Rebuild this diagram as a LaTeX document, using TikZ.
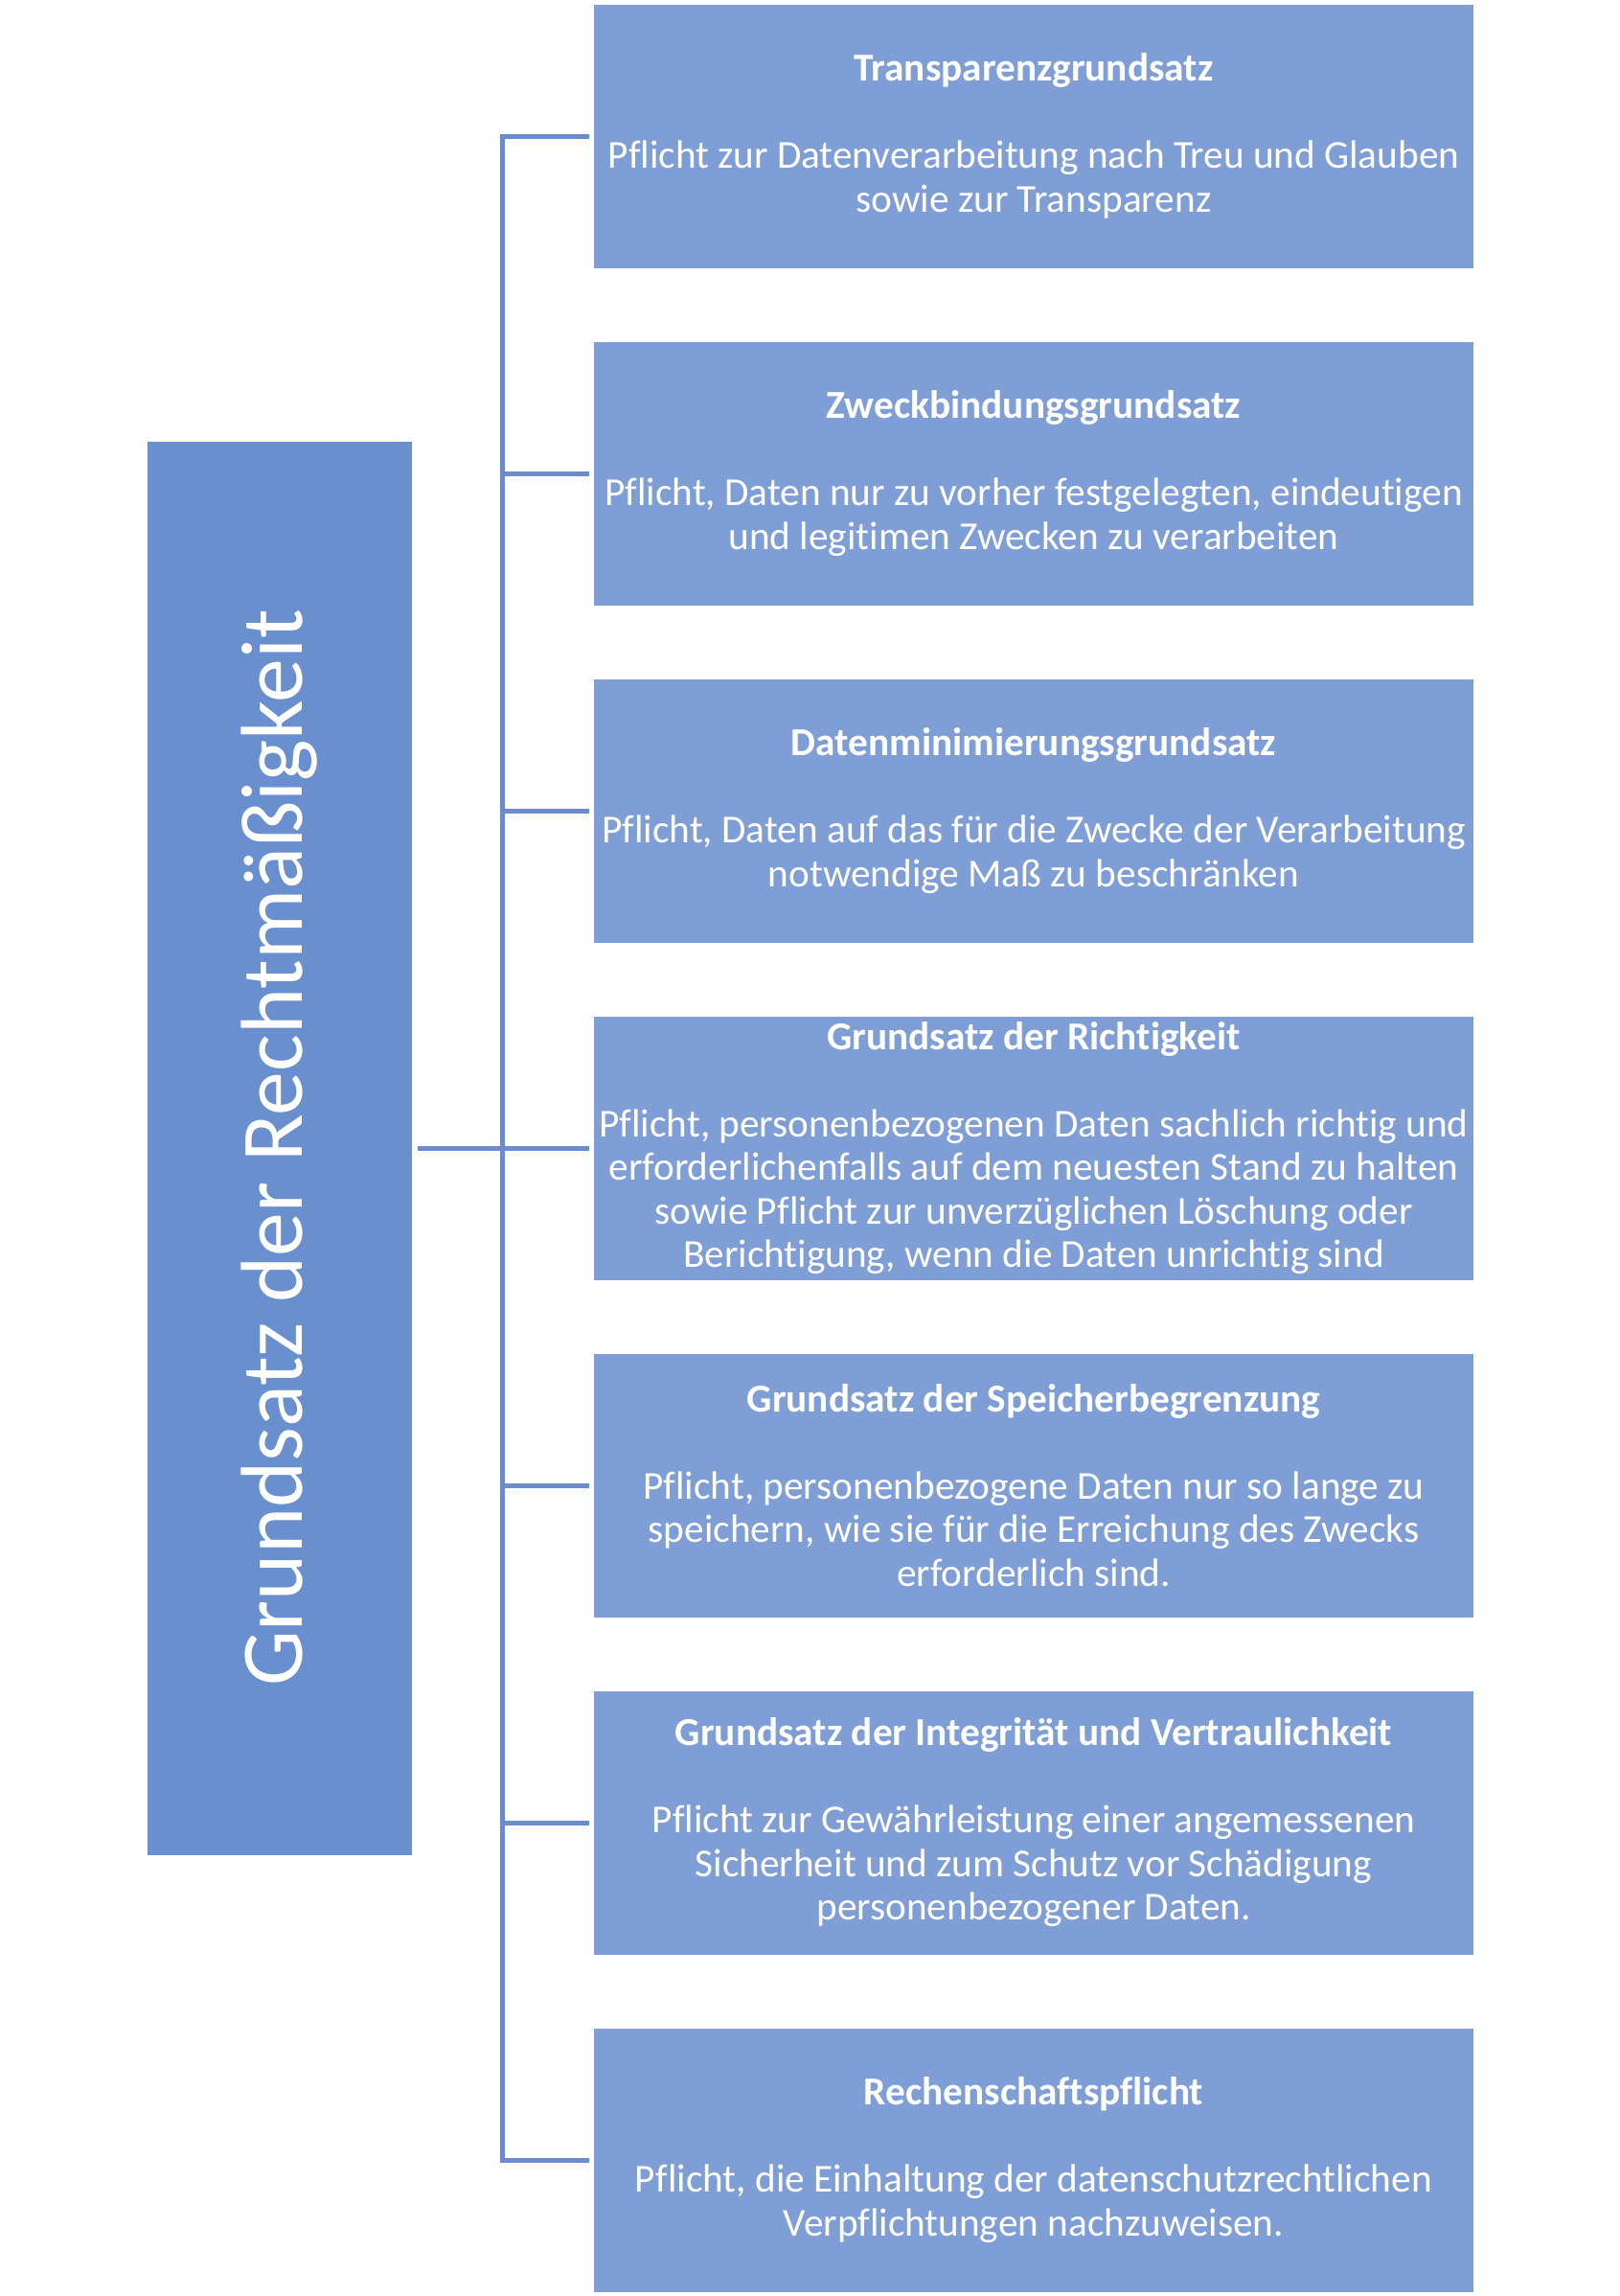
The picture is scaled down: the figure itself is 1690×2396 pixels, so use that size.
\documentclass[tikz,border=0pt]{standalone}
\usepackage{fontspec}
\setmainfont{Carlito}[Ligatures=NoCommon]
\usepackage{tikz}
\usetikzlibrary{trees}

\definecolor{haupt}{RGB}{106,143,206}
\definecolor{kasten}{RGB}{127,158,214}
\definecolor{strich}{RGB}{108,139,204}

\begin{document}
\begin{tikzpicture}[
    x=1pt, y=1pt,
    grow'=right,
    level distance=787pt,
    sibling distance=352pt,
    parent anchor=east,
    child anchor=west,
    edge from parent/.style={draw=strich, line width=5pt, shorten <=6pt, shorten >=5pt},
    edge from parent path={(\tikzparentnode\tikzparentanchor) -- ++(94.5pt,0) |- (\tikzchildnode\tikzchildanchor)},
    grundsatz/.style={rectangle, fill=kasten, text=white, inner sep=0pt, minimum width=918pt, minimum height=275pt, align=center, font=\fontsize{41.3}{45.5}\selectfont},
    root/.style={rectangle, fill=haupt, text=white, inner sep=0pt, minimum width=276pt, minimum height=1475pt, font=\fontsize{91.7}{110}\selectfont}
]
    \useasboundingbox (0,0) rectangle (1690,-2396);
    \node[root] (recht) at (292,-1198) {\rotatebox{90}{Grundsatz der Rechtmäßigkeit}}
        child {
            node[grundsatz] (transparenz) {\textbf{Transparenzgrundsatz}\\[45.5pt]
                Pflicht zur Datenverarbeitung nach Treu und Glauben\\
                sowie zur Transparenz}
        }
        child {
            node[grundsatz] (zweck) {\textbf{Zweckbindungsgrundsatz}\\[45.5pt]
                Pflicht, Daten nur zu vorher festgelegten, eindeutigen\\
                und legitimen Zwecken zu verarbeiten}
        }
        child {
            node[grundsatz] (minimierung) {\textbf{Datenminimierungsgrundsatz}\\[45.5pt]
                Pflicht, Daten auf das für die Zwecke der Verarbeitung\\
                notwendige Maß zu beschränken}
        }
        child {
            node[grundsatz] (richtigkeit) {\textbf{Grundsatz der Richtigkeit}\\[45.5pt]
                Pflicht, personenbezogenen Daten sachlich richtig und\\
                erforderlichenfalls auf dem neuesten Stand zu halten\\
                sowie Pflicht zur unverzüglichen Löschung oder\\
                Berichtigung, wenn die Daten unrichtig sind}
        }
        child {
            node[grundsatz] (speicher) {\textbf{Grundsatz der Speicherbegrenzung}\\[45.5pt]
                Pflicht, personenbezogene Daten nur so lange zu\\
                speichern, wie sie für die Erreichung des Zwecks\\
                erforderlich sind.}
        }
        child {
            node[grundsatz] (integritaet) {\textbf{Grundsatz der Integrität und Vertraulichkeit}\\[45.5pt]
                Pflicht zur Gewährleistung einer angemessenen\\
                Sicherheit und zum Schutz vor Schädigung\\
                personenbezogener Daten.}
        }
        child {
            node[grundsatz] (rechenschaft) {\textbf{Rechenschaftspflicht}\\[45.5pt]
                Pflicht, die Einhaltung der datenschutzrechtlichen\\
                Verpflichtungen nachzuweisen.}
        };
\end{tikzpicture}
\end{document}
